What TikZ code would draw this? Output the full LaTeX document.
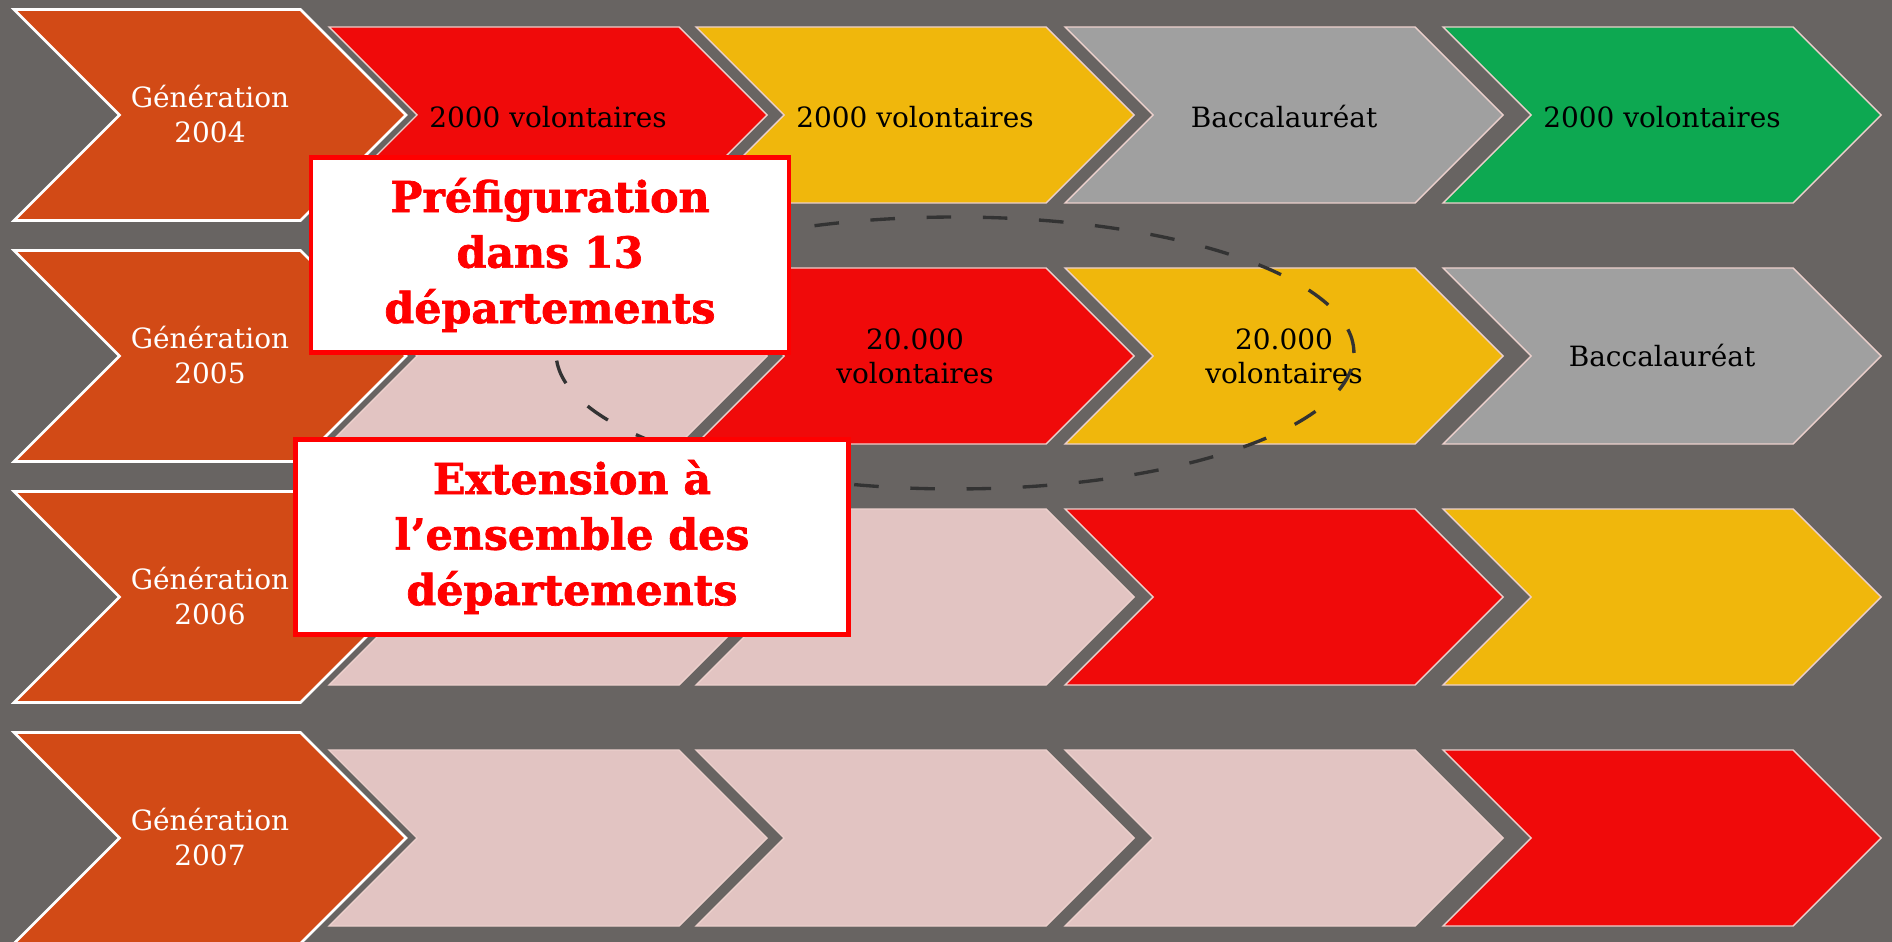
\documentclass[tikz,border=0pt]{standalone}
\usepackage{fontspec}
\setmainfont{DejaVu Serif}[BoldFeatures={FakeBold=1.6}]
\usepackage{tikz}
\usetikzlibrary{positioning,calc}

\definecolor{cfond}{RGB}{104,100,98}
\definecolor{cgen}{RGB}{210,74,22}
\definecolor{crouge}{RGB}{240,10,10}
\definecolor{cjaune}{RGB}{240,183,12}
\definecolor{cgris}{RGB}{160,160,160}
\definecolor{cvert}{RGB}{13,168,81}
\definecolor{crose}{RGB}{226,196,194}
\definecolor{cbord}{RGB}{236,208,204}

% style, x gauche, y milieu, largeur, demi-hauteur
\newcommand{\fleche}[5]{%
  \path[#1] (#2,#3-#5) -- (#2+#4-#5,#3-#5) -- (#2+#4,#3) -- (#2+#4-#5,#3+#5) -- (#2,#3+#5) -- (#2+#5,#3) -- cycle;%
}

\tikzset{
  gen/.style={fill=cgen, draw=white, line width=1.5pt},
  etape/.style={draw=cbord, line width=0.8pt},
  gentxt/.style={text=white, align=center, font=\fontsize{15.9}{19.4}\selectfont},
  txt/.style={text=black, align=center, font=\fontsize{15.9}{19.4}\selectfont},
  encadre/.style={draw=red, line width=2.4pt, fill=white, text=red, align=center, inner sep=0pt, minimum height=3.9cm, font=\bfseries\fontsize{24.3}{31.6}\selectfont},
  pointille/.style={draw=black!80, line width=1.9pt, dash pattern=on 14pt off 18pt},
}

\begin{document}
\begin{tikzpicture}[x=0.02cm, y=-0.02cm]
    \useasboundingbox (0,0) rectangle (1892,942);
    \fill[cfond] (0,0) rectangle (1892,942);

    \fleche{gen}{14}{115}{392}{105.5}
    \fleche{gen}{14}{356}{392}{105.5}
    \fleche{gen}{14}{597}{392}{105.5}
    \fleche{gen}{14}{838}{392}{105.5}

    \fleche{etape, fill=crouge}{329}{115}{438}{88}
    \fleche{etape, fill=cjaune}{696}{115}{438}{88}
    \fleche{etape, fill=cgris}{1065}{115}{438}{88}
    \fleche{etape, fill=cvert}{1443}{115}{438}{88}

    \fleche{etape, fill=crose}{329}{356}{438}{88}
    \fleche{etape, fill=crouge}{696}{356}{438}{88}
    \fleche{etape, fill=cjaune}{1065}{356}{438}{88}
    \fleche{etape, fill=cgris}{1443}{356}{438}{88}

    \fleche{etape, fill=crose}{329}{597}{438}{88}
    \fleche{etape, fill=crose}{696}{597}{438}{88}
    \fleche{etape, fill=crouge}{1065}{597}{438}{88}
    \fleche{etape, fill=cjaune}{1443}{597}{438}{88}

    \fleche{etape, fill=crose}{329}{838}{438}{88}
    \fleche{etape, fill=crose}{696}{838}{438}{88}
    \fleche{etape, fill=crose}{1065}{838}{438}{88}
    \fleche{etape, fill=crouge}{1443}{838}{438}{88}

    \node[gentxt] (g2004) at (210,114) {Génération\\2004};
    \node[gentxt] (g2005) at (210,355) {Génération\\2005};
    \node[gentxt] (g2006) at (210,596) {Génération\\2006};
    \node[gentxt] (g2007) at (210,837) {Génération\\2007};

    \node[txt] (a1) at (548,117) {2000 volontaires};
    \node[txt] (a2) at (915,117) {2000 volontaires};
    \node[txt] (a3) at (1284,117) {Baccalauréat};
    \node[txt] (a4) at (1662,117) {2000 volontaires};
    \node[txt] (b2) at (915,356) {20.000\\volontaires};
    \node[txt] (b3) at (1284,356) {20.000\\volontaires};
    \node[txt] (b4) at (1662,356) {Baccalauréat};

    \draw[pointille] (955,353) ellipse [x radius=7.98cm, y radius=2.72cm];

    \node[encadre, minimum width=9.56cm] (prefig) at (550,255) {Préfiguration\\dans 13\\départements};
    \node[encadre, minimum width=11.06cm] (extension) at (572,537) {Extension à\\l’ensemble des\\départements};
\end{tikzpicture}
\end{document}
